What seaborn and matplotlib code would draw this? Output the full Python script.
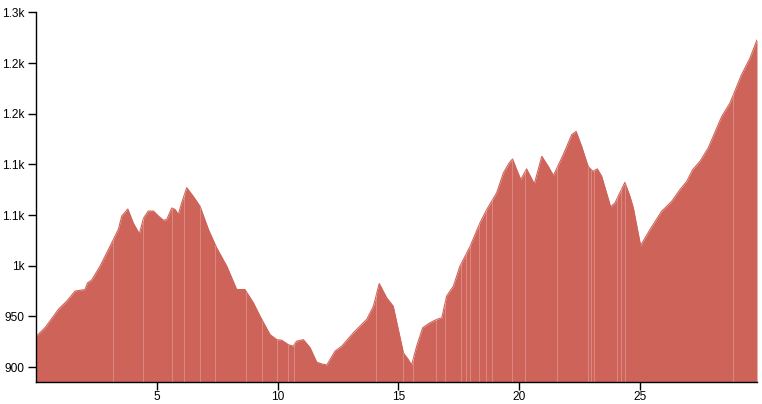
"""Elevation profile: altitude (m) against distance (km)."""

import numpy as np
import pandas as pd
import matplotlib

matplotlib.use("Agg")
import matplotlib.pyplot as plt
import seaborn as sns

# distance along the route (km) and altitude (m)
distance_km = [
    0.00, 0.38, 0.93, 1.27, 1.62, 2.03, 2.13, 2.31, 2.65, 3.06,
    3.41, 3.55, 3.80, 4.03, 4.28, 4.45, 4.65, 4.86, 5.07, 5.27,
    5.41, 5.62, 5.76, 5.89, 6.03, 6.24, 6.51, 6.79, 7.14, 7.48,
    7.90, 8.31, 8.65, 9.00, 9.28, 9.69, 9.97, 10.17, 10.45, 10.65,
    10.79, 11.07, 11.35, 11.62, 11.83, 12.04, 12.38, 12.66, 13.14, 13.69,
    13.97, 14.21, 14.52, 14.79, 15.00, 15.21, 15.41, 15.55, 15.76, 16.01,
    16.31, 16.59, 16.80, 17.00, 17.28, 17.55, 17.97, 18.38, 18.66, 19.07,
    19.35, 19.59, 19.73, 19.90, 20.07, 20.31, 20.63, 20.94, 21.21, 21.42,
    21.83, 22.18, 22.36, 22.59, 22.86, 23.05, 23.24, 23.42, 23.79, 23.97,
    24.38, 24.59, 24.73, 25.03, 25.42, 25.90, 26.32, 26.66, 26.94, 27.19,
    27.49, 27.83, 28.39, 28.73, 29.21, 29.56, 29.85,
]
altitude_m = [
    930, 939, 957, 965, 975, 976.5, 983, 986, 999.5, 1019,
    1036, 1049, 1056, 1042, 1031.5, 1047, 1054, 1054, 1049, 1045,
    1045.5, 1057, 1055.5, 1050.5, 1062, 1077, 1068.5, 1058.7, 1035.7, 1017.6,
    999.5, 976.5, 976.5, 963.4, 950, 932, 927, 926.5, 922, 920.6,
    925.5, 927, 919, 904.8, 903, 902, 915.7, 920.6, 933.8, 947,
    960, 982.4, 968.3, 960, 937, 914, 907.5, 902, 920.6, 938.8,
    943.7, 947, 948.6, 970, 979.8, 999.5, 1019, 1042.3, 1055.4, 1071.9,
    1091.6, 1101.5, 1105.4, 1094.9, 1085, 1095.6, 1080.8, 1108, 1098, 1089,
    1109.7, 1129.4, 1132.6, 1117.8, 1098, 1093.2, 1095.6, 1088.3, 1058.1, 1062,
    1082.3, 1068.5, 1057.1, 1019.9, 1035.7, 1053.7, 1063.6, 1075.1, 1083.3, 1094.9,
    1103.1, 1116.3, 1147.4, 1160.6, 1188.6, 1205, 1223,
]

# faint seams visible inside the filled area (km)
seam_km = [
    3.20, 4.45, 5.65, 6.14, 6.80, 7.43, 8.70, 9.35, 9.97, 10.45,
    10.70, 14.06, 15.21, 15.62, 16.55, 16.93, 17.60, 17.81, 17.97, 18.35,
    18.62, 18.89, 19.69, 20.24, 21.56, 22.84, 22.96, 23.11, 24.04, 24.21,
    24.40, 28.84,
]

x_ticks = [5, 10, 15, 20, 25]
y_ticks = [900, 950, 1000, 1050, 1100, 1150, 1200, 1250]
y_tick_labels = ["900", "950", "1k", "1.1k", "1.1k", "1.2k", "1.2k", "1.3k"]

fill_color = "#ce6359"

sns.set_style("ticks")
plt.rcParams["font.family"] = ["Liberation Sans", "DejaVu Sans"]

df = pd.DataFrame({"km": distance_km, "alt": altitude_m})

fig = plt.figure(figsize=(7.62, 4.04), dpi=100)
ax = fig.add_axes([36 / 762, 22 / 404, 721 / 762, 369.5 / 404])

y_bottom = 885.2
area = ax.fill_between(df["km"], df["alt"], y_bottom, color=fill_color, lw=0)
sns.lineplot(data=df, x="km", y="alt", ax=ax, color=fill_color, lw=0.8)

# seams, clipped to the area
clip = area.get_paths()[0]
for s in seam_km:
    ln = ax.axvline(s, color="white", lw=0.7, alpha=0.25, zorder=3)
    ln.set_clip_path(clip, ax.transData)

ax.set_xlim(0, 29.85)
ax.set_ylim(y_bottom, 1250)
ax.set_xticks(x_ticks)
ax.set_xticklabels([str(t) for t in x_ticks])
ax.set_yticks(y_ticks)
ax.set_yticklabels(y_tick_labels)
ax.set_xlabel("")
ax.set_ylabel("")

sns.despine(ax=ax)
for side in ["left", "bottom"]:
    ax.spines[side].set_color("black")
    ax.spines[side].set_linewidth(1.0)
ax.tick_params(axis="both", length=6, width=1, color="black",
               labelsize=8.6, labelcolor="black")
ax.tick_params(axis="x", pad=0.5)
ax.tick_params(axis="y", pad=2.5)

fig.savefig("out.png", dpi=100)
